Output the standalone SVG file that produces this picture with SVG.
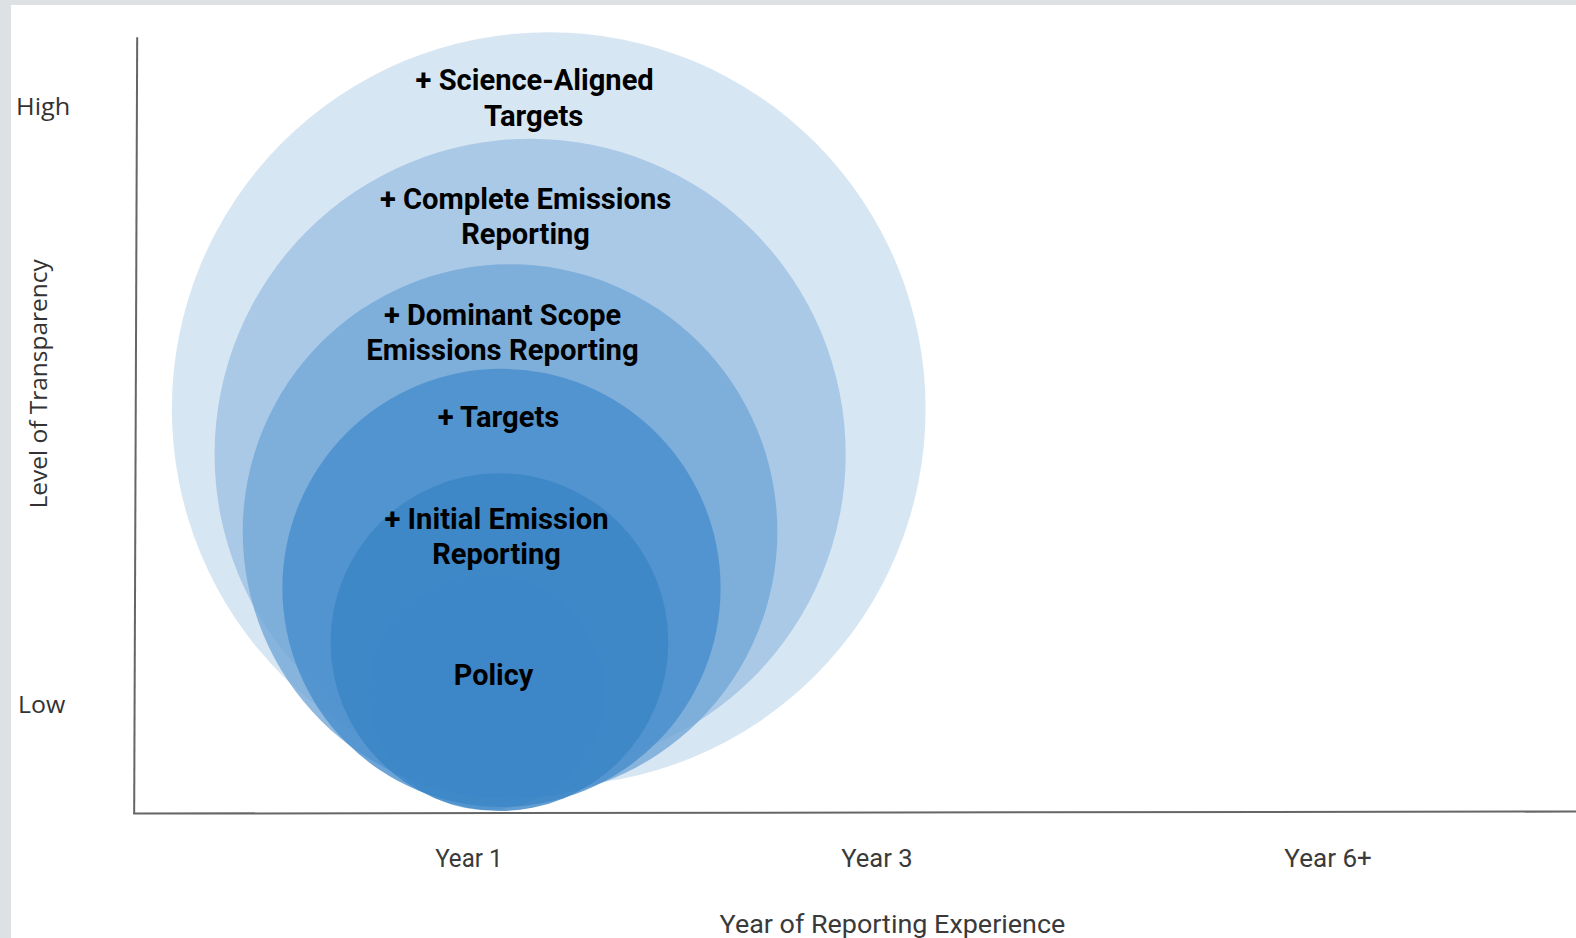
<svg xmlns="http://www.w3.org/2000/svg" width="1576" height="938" viewBox="0 0 1576 938">
<style>
.lbl{font-family:Roboto,"DejaVu Sans Condensed",sans-serif;font-weight:700;font-size:29px;fill:#000;text-anchor:middle}
.ax{font-family:"Open Sans","Noto Sans",sans-serif;font-size:23px;fill:#333}
.xt{font-family:Roboto,"Liberation Sans",sans-serif;font-weight:400;font-size:25px;fill:#3a3a3a}
.axis{stroke:#666;stroke-width:2;fill:none}
</style>
<rect x="0" y="0" width="1576" height="938" fill="#dde1e4"/>
<rect x="11" y="5" width="1565" height="933" fill="#ffffff"/>
<g transform="scale(1.005)">
<g id="circles">
<circle id="c1" cx="546" cy="407" r="375" fill="#d7e6f3"/>
<circle id="c2" cx="527.5" cy="452" r="314" fill="#9ec2e3" fill-opacity="0.8"/>
<circle id="c3" cx="507.5" cy="529" r="266" fill="#73a8d7" fill-opacity="0.8"/>
<circle id="c4" cx="499" cy="585" r="218" fill="#478dcd" fill-opacity="0.8"/>
<circle id="c5" cx="497" cy="639" r="168" fill="#3985c6" fill-opacity="0.8"/>
<circle id="c6" cx="484" cy="689" r="117" fill="#3c87c8" fill-opacity="0.4"/>
</g>
<g id="connectors">
<line class="axis" x1="136.5" y1="37" x2="133.5" y2="810"/>
<line class="axis" x1="132.5" y1="809.5" x2="1576" y2="807.5"/>
</g>
<g id="labels">
<text class="lbl" x="532" y="90" textLength="237" lengthAdjust="spacingAndGlyphs">+ Science-Aligned</text>
<text class="lbl" x="531" y="125" textLength="99" lengthAdjust="spacingAndGlyphs">Targets</text>
<text class="lbl" x="523" y="208" textLength="290" lengthAdjust="spacingAndGlyphs">+ Complete Emissions</text>
<text class="lbl" x="523" y="243" textLength="128" lengthAdjust="spacingAndGlyphs">Reporting</text>
<text class="lbl" x="500" y="323" textLength="236" lengthAdjust="spacingAndGlyphs">+ Dominant Scope</text>
<text class="lbl" x="500" y="358" textLength="271" lengthAdjust="spacingAndGlyphs">Emissions Reporting</text>
<text class="lbl" x="496" y="425" textLength="121" lengthAdjust="spacingAndGlyphs">+ Targets</text>
<text class="lbl" x="494" y="526" textLength="223" lengthAdjust="spacingAndGlyphs">+ Initial Emission</text>
<text class="lbl" x="494" y="561" textLength="128" lengthAdjust="spacingAndGlyphs">Reporting</text>
<text class="lbl" x="491" y="682" textLength="79" lengthAdjust="spacingAndGlyphs">Policy</text>
</g>
<g id="axis-labels">
<text class="ax" x="16" y="114" textLength="54" lengthAdjust="spacingAndGlyphs">High</text>
<text class="ax" x="18" y="709" textLength="47" lengthAdjust="spacingAndGlyphs">Low</text>
<text class="ax" transform="translate(47,506) rotate(-90)" textLength="248" lengthAdjust="spacingAndGlyphs">Level of Transparency</text>
<text class="xt" x="433" y="863" textLength="67" lengthAdjust="spacingAndGlyphs">Year 1</text>
<text class="xt" x="837" y="863" textLength="71" lengthAdjust="spacingAndGlyphs">Year 3</text>
<text class="xt" x="1278" y="863" textLength="87" lengthAdjust="spacingAndGlyphs">Year 6+</text>
<text class="xt" x="716" y="928" textLength="344" lengthAdjust="spacingAndGlyphs">Year of Reporting Experience</text>
</g>
</g>
</svg>
